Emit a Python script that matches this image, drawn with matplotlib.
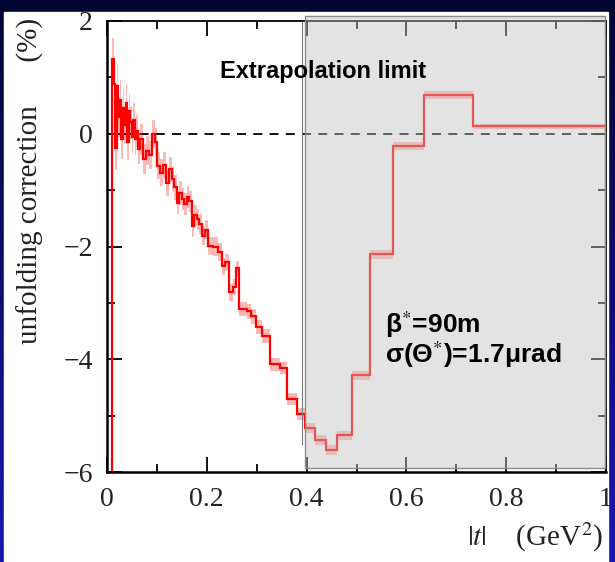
import numpy as np
import matplotlib
matplotlib.use("Agg")
import matplotlib.pyplot as plt
from matplotlib.patches import Rectangle

plt.rcParams['mathtext.fontset'] = 'stix'

# bin edges in |t| (GeV^2) and unfolding correction (%) per bin
edges = [0.011, 0.014, 0.017, 0.020, 0.023, 0.026, 0.029, 0.032, 0.035, 0.038,
         0.041, 0.044, 0.047, 0.050, 0.053, 0.056, 0.059, 0.062,
         0.067, 0.072, 0.078, 0.084, 0.090, 0.096, 0.100, 0.106, 0.112, 0.118,
         0.124, 0.130, 0.135, 0.140, 0.145, 0.150, 0.155, 0.160, 0.165, 0.170,
         0.175, 0.180, 0.185, 0.190, 0.196, 0.202, 0.212, 0.222, 0.230, 0.236,
         0.244, 0.2525, 0.2585, 0.2645, 0.2806, 0.2886, 0.2986, 0.3106, 0.3267,
         0.3467, 0.3607, 0.3808, 0.3968, 0.4168, 0.4389, 0.4609, 0.491, 0.527,
         0.573, 0.635, 0.733, 1.0]
values = [1.32, 0.88, -0.25, 0.85, 0.30, 0.60, -0.10, 0.45, 0.15, 0.55,
          -0.15, 0.40, 0.20, -0.05, 0.25, -0.10, 0.05,
          -0.27, -0.10, -0.45, -0.30, -0.38, 0.0, -0.15, -0.57, -0.69, -0.55,
          -0.87, -0.63, -0.80, -0.95, -1.22, -1.05, -1.16, -1.25, -1.12, -1.20,
          -1.64, -1.45, -1.52, -1.60, -1.81, -1.70, -1.99, -2.00, -2.10, -2.35,
          -2.28, -2.81, -2.72, -2.39, -3.11, -3.15, -3.24, -3.43, -3.59,
          -4.09, -4.15, -4.71, -4.97, -5.22, -5.43, -5.61, -5.35, -4.28,
          -2.14, -0.22, 0.68, 0.13]
errors = [0.38, 0.40, 0.40, 0.38, 0.36, 0.36, 0.35, 0.34, 0.33, 0.33,
          0.32, 0.31, 0.30, 0.30, 0.29, 0.28, 0.28,
          0.27, 0.27, 0.26, 0.26, 0.25, 0.25, 0.25, 0.24, 0.24, 0.23,
          0.23, 0.22, 0.22, 0.22, 0.21, 0.21, 0.20, 0.20, 0.20, 0.19,
          0.19, 0.18, 0.18, 0.18, 0.17, 0.17, 0.16, 0.16, 0.16, 0.15,
          0.15, 0.15, 0.14, 0.14, 0.13, 0.13, 0.13, 0.12, 0.12,
          0.12, 0.11, 0.11, 0.10, 0.09, 0.09, 0.09, 0.08, 0.08,
          0.08, 0.07, 0.07, 0.05]

limit_t = 0.397
x_ticks = [0, 0.2, 0.4, 0.6, 0.8, 1]
x_ticklabels = ["0", "0.2", "0.4", "0.6", "0.8", "1"]
y_ticks = [-6, -4, -2, 0, 2]
y_ticklabels = ["\u22126", "\u22124", "\u22122", "0", "2"]

W, H = 615, 562
fig = plt.figure(figsize=(W / 100, H / 100), dpi=100, facecolor="white")

# blue slide background with white panel
bg = fig.add_axes([0, 0, 1, 1], zorder=-10)
grad = np.linspace(0, 1, 256)[:, None]
top_c = np.array([2, 6, 50]) / 255
bot_c = np.array([24, 24, 175]) / 255
img = top_c[None, None, :] * (1 - grad[:, :, None]) + bot_c[None, None, :] * grad[:, :, None]
bg.imshow(img, aspect="auto", extent=[0, 1, 0, 1])
bg.add_patch(Rectangle((4 / W, 0), (608 - 4) / W, 1 - 12 / H, color="white"))
bg.set_axis_off()

ax = fig.add_axes([107 / W, 1 - 472 / H, (606 - 107) / W, (472 - 21) / H])
ax.set_xlim(0, 1)
ax.set_ylim(-6, 2)

v = np.array(values)
e = np.array(errors)
ax.stairs(v + e, edges, baseline=v - e, fill=True, color="red", alpha=0.28,
          lw=0, zorder=1.8)
ax.stairs(v, edges, baseline=-6, color="red", lw=1.6, zorder=2)
ax.axhline(0, color="black", lw=1.3, ls=(0, (5, 4)), zorder=1)

# extrapolation region
ax.add_patch(Rectangle((limit_t, -5.93), 0.997 - limit_t, 8.01,
                       facecolor=(0.76, 0.76, 0.76, 0.45),
                       edgecolor=(0.55, 0.55, 0.55), lw=1.0,
                       clip_on=False, zorder=3))
ax.vlines(0.391, -5.52, 2.0, color="#777777", lw=0.8, zorder=3)

ax.text(0.226, 1.11, "Extrapolation limit", fontsize=17, fontweight="bold",
        family="Liberation Sans", ha="left", va="center", zorder=4)
ax.text(0.557, -3.38, "\u03b2$^{*}$=90m", fontsize=19, fontweight="bold",
        family="Liberation Sans", ha="left", va="center", zorder=4)
ax.text(0.557, -3.91, "\u03c3(\u0398$^{*}$)=1.7\u03bcrad", fontsize=19,
        fontweight="bold", family="Liberation Sans", ha="left", va="center",
        zorder=4)

ax.set_xticks(x_ticks)
ax.set_xticklabels(x_ticklabels)
ax.set_yticks(y_ticks)
ax.set_yticklabels(y_ticklabels)
ax.set_xticks(np.arange(0.1, 1.0, 0.2), minor=True)
ax.set_yticks(np.arange(-5, 2, 2), minor=True)
ax.tick_params(which="both", direction="in", top=True, right=True, color="black")
ax.tick_params(which="major", length=11, width=1.3, labelsize=20)
ax.tick_params(which="minor", length=6, width=1.3)
ax.tick_params(axis="x", which="major", pad=11)
ax.tick_params(axis="y", which="major", pad=10)
for lab in ax.get_xticklabels() + ax.get_yticklabels():
    lab.set_family("Liberation Serif")
    lab.set_color("#222222")
for s in ["left", "bottom"]:
    ax.spines[s].set_linewidth(1.8)
for s in ["top", "right"]:
    ax.spines[s].set_linewidth(1.3)

fig.text(30 / W, 1 - 181 / H, "unfolding correction      (%)", rotation=90,
         ha="center", va="center", fontsize=21, family="Liberation Serif",
         color="#222222")
fig.text(603 / W, 1 - 537 / H, "$|t|$    (GeV$^2$)", ha="right", va="center",
         fontsize=21, family="Liberation Serif", color="#222222")

fig.savefig("out.png", dpi=100)
